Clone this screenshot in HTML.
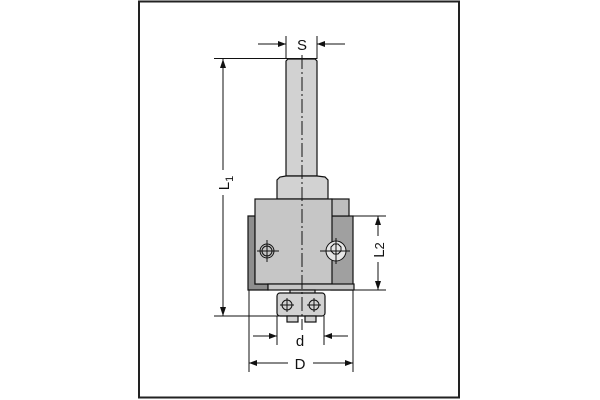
<!DOCTYPE html>
<html><head><style>html,body{margin:0;padding:0;background:#fff}svg{display:block}</style></head>
<body>
<svg width="600" height="400" viewBox="0 0 600 400" xmlns="http://www.w3.org/2000/svg" font-family="Liberation Sans, sans-serif">
<rect x="139" y="1.5" width="320" height="396" fill="none" stroke="#222" stroke-width="2"/>
<g stroke="#111" stroke-width="1.2">
<path d="M286,61 L288,59 L315,59 L317,61 L317,176 L286,176 Z" fill="#d2d2d2"/>
<path d="M286,176 L280,177 L277,180 L277,199 L328,199 L328,180 L325,177 L317,176 Z" fill="#d2d2d2"/>
<path d="M248,216 L255,216 L255,284 L268,284 L268,290 L248,290 Z" fill="#8e8e8e"/>
<rect x="331" y="216" width="22" height="74" fill="#a0a0a0"/>
<rect x="331" y="199" width="18" height="17" fill="#bdbdbd"/>
<rect x="255" y="199" width="77" height="85" fill="#c6c6c6"/>
<rect x="268" y="284" width="86" height="6" fill="#c6c6c6"/>
<rect x="290" y="290" width="25" height="4" fill="#d2d2d2"/>
<rect x="277" y="293" width="48" height="23" rx="3" fill="#d2d2d2"/>
<rect x="287" y="316" width="11" height="6" fill="#d2d2d2"/>
<rect x="305" y="316" width="11" height="6" fill="#d2d2d2"/>
</g>
<g stroke="#111" fill="none" stroke-width="1">
<circle cx="287" cy="305" r="5"/><circle cx="314" cy="305" r="5"/>
<path d="M280,305h14M287,298v14M307,305h14M314,298v14"/>
<circle cx="267" cy="251" r="7"/><circle cx="267" cy="251" r="5"/>
<path d="M257,251h22M267,240v22"/>
<circle cx="336" cy="251" r="10" fill="#e6e6e6"/>
<path d="M331,247 l3,-3 h4 l3,3 v4 l-3,3 h-4 l-3,-3z"/>
<path d="M320,251h30M336,238v26"/>
<path d="M302,55V330" stroke-dasharray="14,3,2,3"/>
<path d="M286,36V59M317,36V59M258,44H286M317,44H345"/>
<path d="M214,58.5H317M214,316H280M223,59V170M223,195V316"/>
<path d="M353,216H386M354,290H386M378,216V236M378,262V290"/>
<path d="M277,316V345M324,316V345M253,336H277M324,336H348"/>
<path d="M249,290V372M353,290V372M249,363H288M313,363H353"/>
</g>
<g fill="#111">
<path d="M286,44l-8,-3v6z M317,44l8,-3v6z"/>
<path d="M223,59l-3,9h6z M223,316l-3,-9h6z"/>
<path d="M378,216l-3,9h6z M378,290l-3,-9h6z"/>
<path d="M277,336l-8,-3v6z M324,336l8,-3v6z"/>
<path d="M249,363l8,-3v6z M353,363l-8,-3v6z"/>
</g>
<g font-size="15" fill="#111" text-anchor="middle">
<text x="302" y="50">S</text>
<text x="300" y="346">d</text>
<text x="300" y="369">D</text>
<text transform="translate(229,183) rotate(-90)">L<tspan font-size="11" dy="4">1</tspan></text>
<text transform="translate(384,250) rotate(-90)">L<tspan font-size="13" dy="0">2</tspan></text>
</g>
</svg>
</body></html>
